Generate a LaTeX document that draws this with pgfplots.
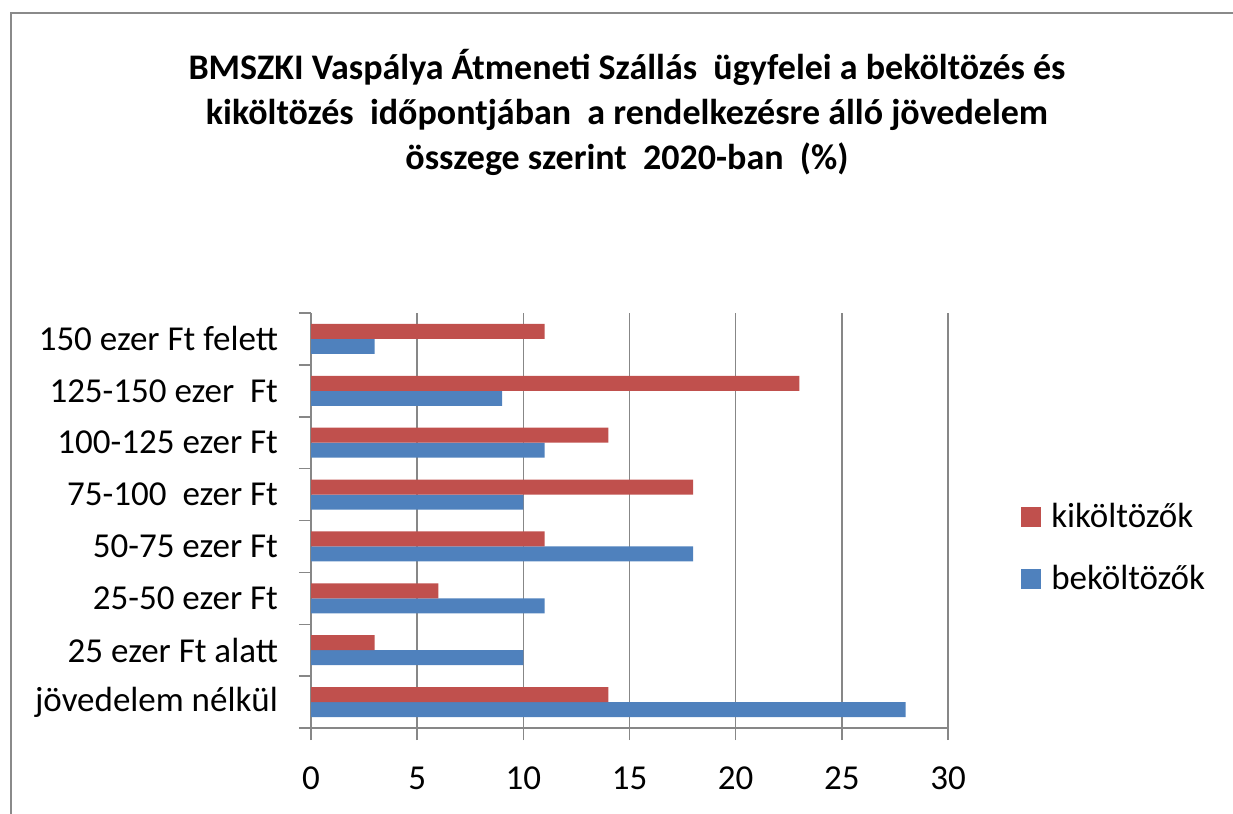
\documentclass[border=0pt]{standalone}
\usepackage{fontspec}
\setmainfont{Carlito}
\usepackage{pgfplots}
\pgfplotsset{compat=1.18}
\definecolor{cred}{HTML}{C0504D}
\definecolor{cblue}{HTML}{4F81BD}
\definecolor{cgrid}{HTML}{878787}
\definecolor{cframe}{HTML}{8A8A8A}
\begin{document}
\begin{tikzpicture}
\useasboundingbox (0pt,0pt) rectangle (616.5pt,-407pt);
\draw[cframe, line width=1.2pt] (5.5pt,-407pt) -- (5.5pt,-6.5pt) -- (616.5pt,-6.5pt);
\node[font=\fontsize{18}{22}\selectfont\bfseries, anchor=base] at (313.5pt,-39.5pt) {BMSZKI Vaspálya Átmeneti Szállás\ \ ügyfelei a beköltözés és};
\node[font=\fontsize{18}{22}\selectfont\bfseries, anchor=base] at (313.5pt,-62pt) {kiköltözés\ \ időpontjában\ \ a rendelkezésre álló jövedelem};
\node[font=\fontsize{18}{22}\selectfont\bfseries, anchor=base] at (313.5pt,-84.5pt) {összege szerint\ \ 2020-ban\ \ (\%)};
\begin{axis}[
  at={(155.5pt,-364pt)}, anchor=south west,
  scale only axis, width=318.5pt, height=207.5pt,
  xbar, bar width=7.5pt,
  xmin=0, xmax=30, ymin=-0.5, ymax=7.5,
  xtick={0,5,...,30},
  ytick={0,...,7},
  yticklabels={jövedelem nélkül,25 ezer Ft alatt,25-50 ezer Ft,50-75 ezer Ft,75-100\ \ ezer Ft,100-125 ezer Ft,125-150 ezer\ \ Ft,150 ezer Ft felett\ },
  minor ytick={-0.5,0.5,...,7.5},
  axis lines*=left,
  axis line style={cgrid, line width=0.75pt},
  tick align=outside,
  major tick length=6pt, minor tick length=6pt,
  major y tick style={draw=none},
  minor y tick style={cgrid, line width=0.75pt},
  major x tick style={cgrid, line width=0.75pt},
  xmajorgrids, major grid style={cgrid, line width=0.75pt},
  tick label style={font=\fontsize{17.5}{20}\selectfont},
  xticklabel style={yshift=-10pt},
  yticklabel style={xshift=-7pt},
  /pgf/number format/assume math mode=true,
  legend style={at={(1.105,0.434)}, anchor=west, draw=none, fill=none,
    font=\fontsize{17.5}{20}\selectfont, row sep=13.5pt,
    /tikz/every odd column/.append style={column sep=3pt}},
  legend cell align=left,
  reverse legend,
  legend image code/.code={\fill[#1,draw=none] (0pt,-5pt) rectangle (10pt,5pt);},
]
\addplot[fill=cblue, draw=none, bar shift=-3.75pt] coordinates {(28,0) (10,1) (11,2) (18,3) (10,4) (11,5) (9,6) (3,7)};
\addplot[fill=cred, draw=none, bar shift=3.75pt] coordinates {(14,0) (3,1) (6,2) (11,3) (18,4) (14,5) (23,6) (11,7)};
\legend{beköltözők,kiköltözők}
\end{axis}
\end{tikzpicture}
\end{document}
